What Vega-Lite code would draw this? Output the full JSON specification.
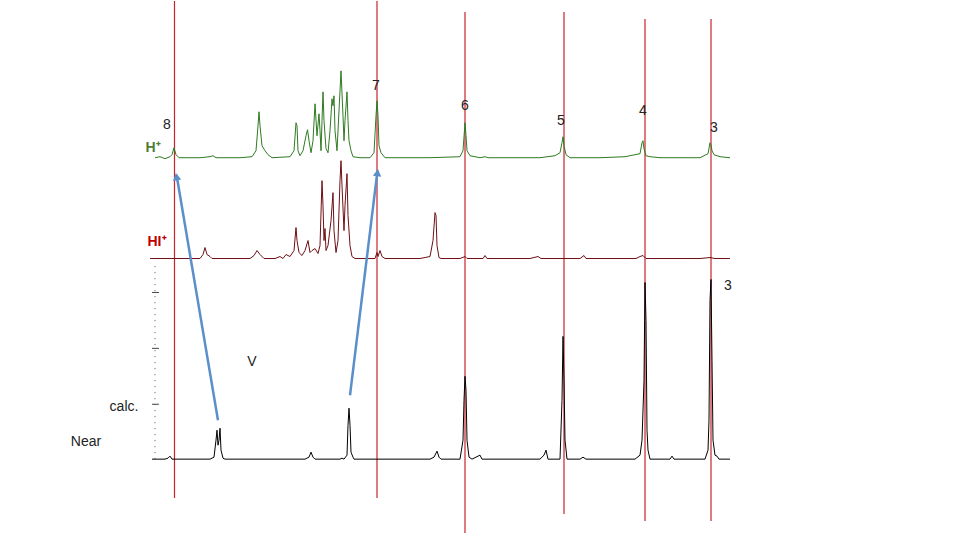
{
  "$schema": "https://vega.github.io/schema/vega-lite/v6.json",
  "width": 960,
  "height": 540,
  "autosize": {"type": "fit", "contains": "padding"},
  "padding": 0,
  "background": "white",
  "config": {"view": {"stroke": null}},
  "datasets": {
    "spectra": [
      {"trace":"H+","x":155,"y":383},{"trace":"H+","x":160,"y":384},{"trace":"H+","x":165,"y":382},{"trace":"H+","x":170,"y":384},{"trace":"H+","x":172,"y":386},{"trace":"H+","x":174,"y":393},{"trace":"H+","x":176,"y":386},{"trace":"H+","x":179,"y":383},{"trace":"H+","x":200,"y":383},{"trace":"H+","x":210,"y":384},{"trace":"H+","x":213,"y":385},{"trace":"H+","x":216,"y":383},{"trace":"H+","x":240,"y":383},{"trace":"H+","x":252,"y":384},{"trace":"H+","x":256,"y":390},{"trace":"H+","x":258,"y":415},{"trace":"H+","x":259,"y":429},{"trace":"H+","x":260,"y":415},{"trace":"H+","x":262,"y":395},{"trace":"H+","x":265,"y":390},{"trace":"H+","x":268,"y":386},{"trace":"H+","x":272,"y":383},{"trace":"H+","x":290,"y":384},{"trace":"H+","x":294,"y":390},{"trace":"H+","x":296,"y":418},{"trace":"H+","x":297,"y":415},{"trace":"H+","x":298,"y":390},{"trace":"H+","x":300,"y":385},{"trace":"H+","x":303,"y":390},{"trace":"H+","x":306,"y":405},{"trace":"H+","x":307.5,"y":411},{"trace":"H+","x":309,"y":400},{"trace":"H+","x":311,"y":388},{"trace":"H+","x":313,"y":400},{"trace":"H+","x":315,"y":437},{"trace":"H+","x":317,"y":405},{"trace":"H+","x":319,"y":427},{"trace":"H+","x":320,"y":410},{"trace":"H+","x":321,"y":390},{"trace":"H+","x":322,"y":420},{"trace":"H+","x":323,"y":449},{"trace":"H+","x":324,"y":420},{"trace":"H+","x":326,"y":392},{"trace":"H+","x":328,"y":388},{"trace":"H+","x":330,"y":410},{"trace":"H+","x":332,"y":442},{"trace":"H+","x":333,"y":435},{"trace":"H+","x":334,"y":445},{"trace":"H+","x":335,"y":410},{"trace":"H+","x":337,"y":390},{"trace":"H+","x":339,"y":430},{"trace":"H+","x":341,"y":470},{"trace":"H+","x":343,"y":425},{"trace":"H+","x":344,"y":400},{"trace":"H+","x":345,"y":420},{"trace":"H+","x":347,"y":449},{"trace":"H+","x":348,"y":420},{"trace":"H+","x":349,"y":400},{"trace":"H+","x":351,"y":390},{"trace":"H+","x":353,"y":384},{"trace":"H+","x":360,"y":383},{"trace":"H+","x":370,"y":383},{"trace":"H+","x":374,"y":388},{"trace":"H+","x":376,"y":425},{"trace":"H+","x":377,"y":440},{"trace":"H+","x":378,"y":425},{"trace":"H+","x":379,"y":395},{"trace":"H+","x":381,"y":388},{"trace":"H+","x":385,"y":383},{"trace":"H+","x":400,"y":383},{"trace":"H+","x":430,"y":383},{"trace":"H+","x":460,"y":384},{"trace":"H+","x":463,"y":390},{"trace":"H+","x":465,"y":418},{"trace":"H+","x":466,"y":405},{"trace":"H+","x":467,"y":390},{"trace":"H+","x":470,"y":385},{"trace":"H+","x":480,"y":383},{"trace":"H+","x":485,"y":384},{"trace":"H+","x":488,"y":383},{"trace":"H+","x":540,"y":383},{"trace":"H+","x":555,"y":385},{"trace":"H+","x":560,"y":388},{"trace":"H+","x":562,"y":398},{"trace":"H+","x":563,"y":404},{"trace":"H+","x":564,"y":395},{"trace":"H+","x":566,"y":386},{"trace":"H+","x":570,"y":383},{"trace":"H+","x":600,"y":383},{"trace":"H+","x":625,"y":384},{"trace":"H+","x":640,"y":387},{"trace":"H+","x":642,"y":398},{"trace":"H+","x":643,"y":400},{"trace":"H+","x":644,"y":392},{"trace":"H+","x":646,"y":385},{"trace":"H+","x":650,"y":384},{"trace":"H+","x":660,"y":383},{"trace":"H+","x":700,"y":383},{"trace":"H+","x":708,"y":387},{"trace":"H+","x":710,"y":398},{"trace":"H+","x":711,"y":396},{"trace":"H+","x":712,"y":390},{"trace":"H+","x":714,"y":386},{"trace":"H+","x":720,"y":384},{"trace":"H+","x":730,"y":383},

      {"trace":"HI+","x":150,"y":282},{"trace":"HI+","x":160,"y":282},{"trace":"HI+","x":175,"y":282},{"trace":"HI+","x":200,"y":282},{"trace":"HI+","x":203,"y":286},{"trace":"HI+","x":205,"y":293},{"trace":"HI+","x":207,"y":286},{"trace":"HI+","x":210,"y":284},{"trace":"HI+","x":212,"y":282},{"trace":"HI+","x":250,"y":282},{"trace":"HI+","x":254,"y":285},{"trace":"HI+","x":257,"y":290},{"trace":"HI+","x":260,"y":286},{"trace":"HI+","x":264,"y":282},{"trace":"HI+","x":275,"y":282},{"trace":"HI+","x":280,"y":284},{"trace":"HI+","x":283,"y":282},{"trace":"HI+","x":286,"y":286},{"trace":"HI+","x":290,"y":284},{"trace":"HI+","x":294,"y":290},{"trace":"HI+","x":296,"y":313},{"trace":"HI+","x":297,"y":300},{"trace":"HI+","x":299,"y":288},{"trace":"HI+","x":302,"y":285},{"trace":"HI+","x":305,"y":290},{"trace":"HI+","x":308,"y":300},{"trace":"HI+","x":310,"y":288},{"trace":"HI+","x":312,"y":290},{"trace":"HI+","x":315,"y":292},{"trace":"HI+","x":318,"y":287},{"trace":"HI+","x":320,"y":295},{"trace":"HI+","x":322,"y":360},{"trace":"HI+","x":323,"y":335},{"trace":"HI+","x":324,"y":300},{"trace":"HI+","x":325,"y":312},{"trace":"HI+","x":326,"y":290},{"trace":"HI+","x":328,"y":295},{"trace":"HI+","x":331,"y":320},{"trace":"HI+","x":333,"y":348},{"trace":"HI+","x":334,"y":310},{"trace":"HI+","x":336,"y":288},{"trace":"HI+","x":338,"y":300},{"trace":"HI+","x":340,"y":360},{"trace":"HI+","x":341,"y":380},{"trace":"HI+","x":342,"y":355},{"trace":"HI+","x":344,"y":310},{"trace":"HI+","x":345,"y":335},{"trace":"HI+","x":347,"y":367},{"trace":"HI+","x":348,"y":325},{"trace":"HI+","x":350,"y":295},{"trace":"HI+","x":352,"y":284},{"trace":"HI+","x":355,"y":282},{"trace":"HI+","x":375,"y":282},{"trace":"HI+","x":377,"y":288},{"trace":"HI+","x":378,"y":284},{"trace":"HI+","x":380,"y":290},{"trace":"HI+","x":382,"y":284},{"trace":"HI+","x":385,"y":282},{"trace":"HI+","x":420,"y":282},{"trace":"HI+","x":430,"y":284},{"trace":"HI+","x":433,"y":300},{"trace":"HI+","x":435,"y":328},{"trace":"HI+","x":436,"y":325},{"trace":"HI+","x":437,"y":295},{"trace":"HI+","x":439,"y":283},{"trace":"HI+","x":441,"y":282},{"trace":"HI+","x":460,"y":282},{"trace":"HI+","x":465,"y":284},{"trace":"HI+","x":467,"y":282},{"trace":"HI+","x":483,"y":282},{"trace":"HI+","x":485,"y":285},{"trace":"HI+","x":487,"y":282},{"trace":"HI+","x":530,"y":282},{"trace":"HI+","x":538,"y":284},{"trace":"HI+","x":541,"y":282},{"trace":"HI+","x":560,"y":282},{"trace":"HI+","x":580,"y":282},{"trace":"HI+","x":584,"y":285},{"trace":"HI+","x":586,"y":282},{"trace":"HI+","x":636,"y":282},{"trace":"HI+","x":640,"y":284},{"trace":"HI+","x":643,"y":285},{"trace":"HI+","x":646,"y":282},{"trace":"HI+","x":700,"y":282},{"trace":"HI+","x":710,"y":283},{"trace":"HI+","x":715,"y":282},{"trace":"HI+","x":730,"y":282},

      {"trace":"calc","x":152,"y":81},{"trace":"calc","x":165,"y":81},{"trace":"calc","x":168,"y":82},{"trace":"calc","x":170,"y":84},{"trace":"calc","x":172,"y":81},{"trace":"calc","x":210,"y":81},{"trace":"calc","x":214,"y":83},{"trace":"calc","x":216,"y":100},{"trace":"calc","x":217,"y":110},{"trace":"calc","x":218,"y":95},{"trace":"calc","x":219,"y":100},{"trace":"calc","x":220,"y":112},{"trace":"calc","x":221,"y":90},{"trace":"calc","x":223,"y":82},{"trace":"calc","x":225,"y":81},{"trace":"calc","x":305,"y":81},{"trace":"calc","x":309,"y":83},{"trace":"calc","x":311,"y":88},{"trace":"calc","x":313,"y":83},{"trace":"calc","x":315,"y":81},{"trace":"calc","x":340,"y":81},{"trace":"calc","x":342,"y":82},{"trace":"calc","x":344,"y":81},{"trace":"calc","x":347,"y":85},{"trace":"calc","x":348,"y":115},{"trace":"calc","x":349,"y":132},{"trace":"calc","x":350,"y":115},{"trace":"calc","x":351,"y":88},{"trace":"calc","x":353,"y":83},{"trace":"calc","x":354,"y":81},{"trace":"calc","x":430,"y":81},{"trace":"calc","x":434,"y":83},{"trace":"calc","x":437,"y":89},{"trace":"calc","x":439,"y":83},{"trace":"calc","x":441,"y":81},{"trace":"calc","x":460,"y":81},{"trace":"calc","x":463,"y":100},{"trace":"calc","x":464,"y":140},{"trace":"calc","x":465,"y":164},{"trace":"calc","x":466,"y":150},{"trace":"calc","x":467,"y":100},{"trace":"calc","x":469,"y":83},{"trace":"calc","x":472,"y":81},{"trace":"calc","x":480,"y":85},{"trace":"calc","x":482,"y":81},{"trace":"calc","x":540,"y":81},{"trace":"calc","x":544,"y":85},{"trace":"calc","x":546,"y":90},{"trace":"calc","x":548,"y":81},{"trace":"calc","x":560,"y":81},{"trace":"calc","x":562,"y":140},{"trace":"calc","x":563,"y":204},{"trace":"calc","x":564,"y":160},{"trace":"calc","x":565,"y":100},{"trace":"calc","x":567,"y":81},{"trace":"calc","x":580,"y":81},{"trace":"calc","x":583,"y":83},{"trace":"calc","x":586,"y":81},{"trace":"calc","x":635,"y":81},{"trace":"calc","x":640,"y":85},{"trace":"calc","x":642,"y":100},{"trace":"calc","x":644,"y":160},{"trace":"calc","x":645,"y":258},{"trace":"calc","x":646,"y":220},{"trace":"calc","x":647,"y":110},{"trace":"calc","x":648,"y":90},{"trace":"calc","x":650,"y":81},{"trace":"calc","x":670,"y":81},{"trace":"calc","x":672,"y":84},{"trace":"calc","x":674,"y":81},{"trace":"calc","x":705,"y":81},{"trace":"calc","x":708,"y":90},{"trace":"calc","x":709,"y":120},{"trace":"calc","x":710,"y":240},{"trace":"calc","x":711,"y":261},{"trace":"calc","x":712,"y":180},{"trace":"calc","x":713,"y":100},{"trace":"calc","x":715,"y":85},{"trace":"calc","x":717,"y":84},{"trace":"calc","x":719,"y":81},{"trace":"calc","x":730,"y":81}
    ],
    "markers": [
      {"band":"8","x":174.5,"top":540,"bottom":42},
      {"band":"7","x":377,"top":540,"bottom":42},
      {"band":"6","x":465,"top":529,"bottom":7},
      {"band":"5","x":564,"top":529,"bottom":26},
      {"band":"4","x":645,"top":522,"bottom":19},
      {"band":"3","x":711,"top":522,"bottom":19}
    ],
    "labels": [
      {"text":"8","kind":"num","x":167,"y":416},
      {"text":"7","kind":"num","x":376,"y":455},
      {"text":"6","kind":"num","x":465,"y":435},
      {"text":"5","kind":"num","x":561,"y":420},
      {"text":"4","kind":"num","x":643,"y":430},
      {"text":"3","kind":"num","x":714,"y":413},
      {"text":"3","kind":"num","x":728,"y":254},
      {"text":"V","kind":"num","x":252,"y":178},
      {"text":"calc.","kind":"num","x":124,"y":133},
      {"text":"Near","kind":"num","x":86,"y":98}
    ],
    "species": [
      {"text":"H⁺","kind":"H+","x":153,"y":393},
      {"text":"HI⁺","kind":"HI+","x":157,"y":299}
    ],
    "arrows": [
      {"id":"a8","x":218,"y":120,"x2":176.5,"y2":366},
      {"id":"a7","x":350,"y":145,"x2":377.5,"y2":370}
    ],
    "heads": [
      {"id":"a8","x":176.5,"y":364,"dir":350},
      {"id":"a7","x":377.5,"y":368,"dir":7}
    ],
    "axisline": [
      {"x":155,"y":81,"y2":278}
    ],
    "axisticks": [
      {"x":152,"x2":159,"y":248},
      {"x":152,"x2":159,"y":192},
      {"x":152,"x2":159,"y":136}
    ]
  },
  "layer": [
    {
      "data": {"name": "markers"},
      "mark": {"type": "rule", "color": "#c8232c", "strokeWidth": 1.2},
      "encoding": {
        "x": {"field": "x", "type": "quantitative", "scale": {"domain": [0, 960], "nice": false, "zero": false}, "axis": null},
        "y": {"field": "top", "type": "quantitative", "scale": {"domain": [0, 540], "nice": false, "zero": false}, "axis": null},
        "y2": {"field": "bottom"}
      }
    },
    {
      "data": {"name": "axisline"},
      "mark": {"type": "rule", "color": "#555555", "strokeWidth": 1, "strokeDash": [1, 5]},
      "encoding": {
        "x": {"field": "x", "type": "quantitative"},
        "y": {"field": "y", "type": "quantitative"},
        "y2": {"field": "y2"}
      }
    },
    {
      "data": {"name": "axisticks"},
      "mark": {"type": "rule", "color": "#444444", "strokeWidth": 1},
      "encoding": {
        "x": {"field": "x", "type": "quantitative"},
        "x2": {"field": "x2"},
        "y": {"field": "y", "type": "quantitative"}
      }
    },
    {
      "data": {"name": "spectra"},
      "mark": {"type": "line", "strokeWidth": 1, "interpolate": "linear"},
      "encoding": {
        "x": {"field": "x", "type": "quantitative"},
        "y": {"field": "y", "type": "quantitative"},
        "color": {"field": "trace", "type": "nominal", "scale": {"domain": ["H+", "HI+", "calc"], "range": ["#2f7a22", "#6e0f14", "#000000"]}, "legend": null}
      }
    },
    {
      "data": {"name": "arrows"},
      "mark": {"type": "rule", "color": "#5b8fca", "strokeWidth": 2.5},
      "encoding": {
        "x": {"field": "x", "type": "quantitative"},
        "y": {"field": "y", "type": "quantitative"},
        "x2": {"field": "x2"},
        "y2": {"field": "y2"}
      }
    },
    {
      "data": {"name": "heads"},
      "mark": {"type": "point", "shape": "triangle-up", "filled": true, "color": "#5b8fca", "size": 70, "opacity": 1},
      "encoding": {
        "x": {"field": "x", "type": "quantitative"},
        "y": {"field": "y", "type": "quantitative"},
        "angle": {"field": "dir", "type": "quantitative", "scale": {"domain": [0, 360], "range": [0, 360]}}
      }
    },
    {
      "data": {"name": "labels"},
      "mark": {"type": "text", "font": "Liberation Sans", "fontSize": 14, "color": "#222222", "align": "center", "baseline": "middle"},
      "encoding": {
        "x": {"field": "x", "type": "quantitative"},
        "y": {"field": "y", "type": "quantitative"},
        "text": {"field": "text"}
      }
    },
    {
      "data": {"name": "species"},
      "mark": {"type": "text", "font": "Liberation Sans", "fontSize": 14, "fontWeight": "bold", "align": "center", "baseline": "middle"},
      "encoding": {
        "x": {"field": "x", "type": "quantitative"},
        "y": {"field": "y", "type": "quantitative"},
        "text": {"field": "text"},
        "color": {"field": "kind", "type": "nominal", "scale": {"domain": ["H+", "HI+"], "range": ["#4f7d36", "#c00000"]}, "legend": null}
      }
    }
  ],
  "resolve": {"scale": {"color": "independent"}}
}
